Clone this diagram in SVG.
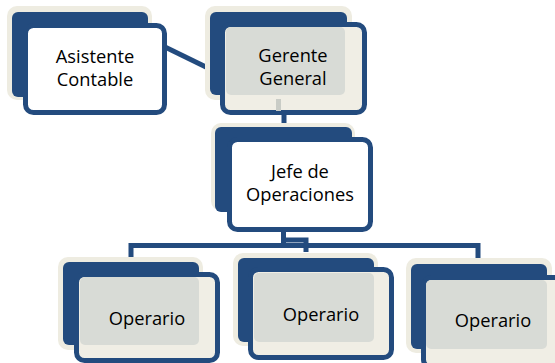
<svg xmlns="http://www.w3.org/2000/svg" width="555" height="363" viewBox="0 0 555 363">
<style>
.halo{fill:#eeece1}
.back{fill:#234b7e}
.frontw{fill:#ffffff;stroke:#234b7e;stroke-width:5}
.frontg{fill:#f0eee5;stroke:#234b7e;stroke-width:5}
.inner{fill:#d8dbd6}
.conn{fill:none;stroke:#234b7e;stroke-width:5}
text{font-family:"Open Sans","Liberation Sans",sans-serif;font-size:18.3px;fill:#000;text-anchor:middle}
</style>
<rect width="555" height="363" fill="#ffffff"/>
<g id="connectors">
<path class="conn" d="M165 47 L208 68"/>
<path class="conn" d="M284 110 V128"/>
<path class="conn" d="M131 258 V245.5 H478 V259"/>
<path class="conn" d="M283.5 230 V248"/>
<path class="conn" d="M283.5 240 H306 V252"/>
</g>
<g id="asistente">
<rect class="halo" x="7" y="6" width="145" height="94" rx="10"/>
<rect class="back" x="12" y="12" width="136" height="85" rx="6"/>
<rect class="frontw" x="25.5" y="25.5" width="139" height="87" rx="8"/>
<text x="95" y="63">Asistente</text>
<text x="95" y="86">Contable</text>
</g>
<g id="gerente">
<rect class="halo" x="205" y="6" width="147" height="94" rx="10"/>
<rect class="back" x="210" y="12" width="137" height="83" rx="6"/>
<rect class="frontg" x="222.5" y="24.5" width="142" height="88" rx="8"/>
<rect class="inner" x="226" y="27" width="119" height="68" rx="5"/>
<rect x="276" y="99" width="5" height="12" fill="#c9ccc6"/>
<text x="293" y="62">Gerente</text>
<text x="293" y="85">General</text>
</g>
<g id="jefe">
<rect class="halo" x="211" y="123" width="144" height="88" rx="10"/>
<rect class="back" x="215" y="127" width="137" height="85" rx="6"/>
<rect class="frontw" x="229.5" y="139.5" width="141" height="90" rx="8"/>
<text x="300" y="178">Jefe de</text>
<text x="300" y="201">Operaciones</text>
</g>
<g id="operario1">
<rect class="halo" x="58" y="257" width="145" height="93" rx="10"/>
<rect class="back" x="63" y="262" width="136" height="83" rx="6"/>
<rect class="frontg" x="76.5" y="274.5" width="141" height="86" rx="8"/>
<rect class="inner" x="80" y="277" width="119" height="68" rx="5"/>
<text x="147" y="325">Operario</text>
</g>
<g id="operario2">
<rect class="halo" x="233" y="253" width="145" height="93" rx="10"/>
<rect class="back" x="238" y="258" width="136" height="84" rx="6"/>
<rect class="frontg" x="250.5" y="269.5" width="141" height="88" rx="8"/>
<rect class="inner" x="254" y="273" width="120" height="69" rx="5"/>
<text x="321" y="321">Operario</text>
</g>
<g id="operario3">
<rect class="halo" x="406" y="258" width="146" height="95" rx="10"/>
<rect class="back" x="411" y="264" width="136" height="85" rx="6"/>
<rect class="frontg" x="423.5" y="277.5" width="141" height="90" rx="8"/>
<rect class="inner" x="426" y="280" width="121" height="69" rx="5"/>
<text x="493" y="327">Operario</text>
</g>
</svg>
